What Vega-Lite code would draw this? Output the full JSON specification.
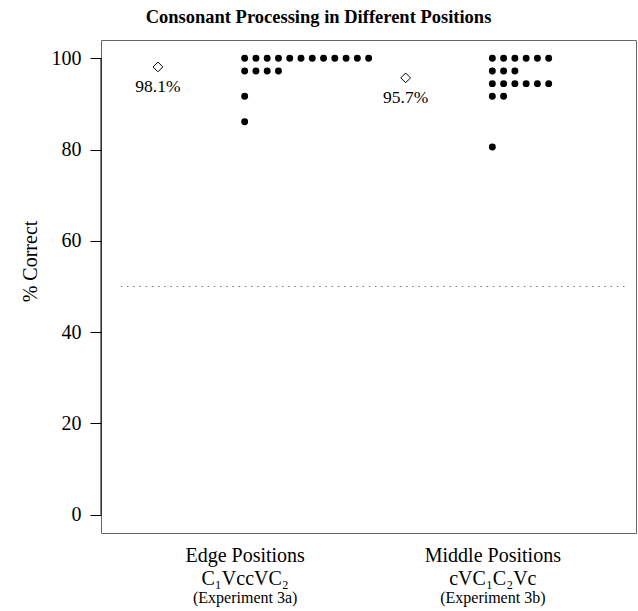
{
  "$schema": "https://vega.github.io/schema/vega-lite/v6.json",
  "width": 535,
  "height": 493,
  "autosize": {"type": "none"},
  "padding": {"left": 101, "top": 40, "right": 2, "bottom": 78},
  "background": "white",
  "config": {
    "view": {"stroke": "#666666", "strokeWidth": 1},
    "font": "Liberation Serif",
    "axisX": {"domain": false, "ticks": false, "tickSize": 0, "grid": false, "labelColor": "black", "labelFont": "Liberation Serif", "labelBaseline": "middle", "labelOverlap": false, "labelFlush": false, "orient": "bottom"},
    "axisY": {"domain": false, "grid": false, "tickColor": "black", "tickSize": 11, "tickWidth": 1, "labelPadding": 9, "labelFont": "Liberation Serif", "labelFontSize": 20, "labelColor": "black", "titleFont": "Liberation Serif", "titleFontSize": 20, "titleFontWeight": "normal", "titleColor": "black", "titlePadding": 11, "titleY": 221}
  },
  "title": {"text": "Consonant Processing in Different Positions", "font": "Liberation Serif", "fontSize": 18.5, "fontWeight": "bold", "color": "black", "anchor": "middle", "frame": "group", "dx": -50, "offset": 14},
  "datasets": {
    "dots": [
      {"cond": "Edge", "x": 1.0, "pct": 100}, {"cond": "Edge", "x": 1.0455, "pct": 100}, {"cond": "Edge", "x": 1.091, "pct": 100}, {"cond": "Edge", "x": 1.1365, "pct": 100},
      {"cond": "Edge", "x": 1.182, "pct": 100}, {"cond": "Edge", "x": 1.2275, "pct": 100}, {"cond": "Edge", "x": 1.273, "pct": 100}, {"cond": "Edge", "x": 1.3185, "pct": 100},
      {"cond": "Edge", "x": 1.364, "pct": 100}, {"cond": "Edge", "x": 1.4095, "pct": 100}, {"cond": "Edge", "x": 1.455, "pct": 100}, {"cond": "Edge", "x": 1.5005, "pct": 100},
      {"cond": "Edge", "x": 1.0, "pct": 97.22}, {"cond": "Edge", "x": 1.0455, "pct": 97.22}, {"cond": "Edge", "x": 1.091, "pct": 97.22}, {"cond": "Edge", "x": 1.1365, "pct": 97.22},
      {"cond": "Edge", "x": 1.0, "pct": 91.67},
      {"cond": "Edge", "x": 1.0, "pct": 86.11},
      {"cond": "Middle", "x": 2.0, "pct": 100}, {"cond": "Middle", "x": 2.0455, "pct": 100}, {"cond": "Middle", "x": 2.091, "pct": 100}, {"cond": "Middle", "x": 2.1365, "pct": 100}, {"cond": "Middle", "x": 2.182, "pct": 100}, {"cond": "Middle", "x": 2.2275, "pct": 100},
      {"cond": "Middle", "x": 2.0, "pct": 97.22}, {"cond": "Middle", "x": 2.0455, "pct": 97.22}, {"cond": "Middle", "x": 2.091, "pct": 97.22},
      {"cond": "Middle", "x": 2.0, "pct": 94.44}, {"cond": "Middle", "x": 2.0455, "pct": 94.44}, {"cond": "Middle", "x": 2.091, "pct": 94.44}, {"cond": "Middle", "x": 2.1365, "pct": 94.44}, {"cond": "Middle", "x": 2.182, "pct": 94.44}, {"cond": "Middle", "x": 2.2275, "pct": 94.44},
      {"cond": "Middle", "x": 2.0, "pct": 91.67}, {"cond": "Middle", "x": 2.0455, "pct": 91.67},
      {"cond": "Middle", "x": 2.0, "pct": 80.56}
    ],
    "means": [
      {"cond": "Edge", "x": 0.65, "pct": 98.1, "label": "98.1%"},
      {"cond": "Middle", "x": 1.65, "pct": 95.7, "label": "95.7%"}
    ]
  },
  "layer": [
    {
      "data": {"values": [{"ref": "chance"}]},
      "mark": {"type": "rule", "color": "#777777", "strokeWidth": 1, "strokeDash": [1.5, 4.7]},
      "encoding": {
        "x": {"datum": 0.5, "type": "quantitative", "scale": {"domain": [0.42, 2.58], "nice": false, "zero": false}, "axis": null},
        "x2": {"datum": 2.54},
        "y": {"datum": 50, "type": "quantitative", "scale": {"domain": [-4, 104], "nice": false, "zero": false}, "title": "% Correct"}
      }
    },
    {
      "data": {"values": [{"ref": "axis"}]},
      "mark": {"type": "rule", "color": "black", "strokeWidth": 1},
      "encoding": {
        "x": {"datum": 0.42, "type": "quantitative", "scale": {"domain": [0.42, 2.58], "nice": false, "zero": false}, "axis": null},
        "y": {"datum": 0, "type": "quantitative", "scale": {"domain": [-4, 104], "nice": false, "zero": false}, "title": "% Correct"},
        "y2": {"datum": 100}
      }
    },
    {
      "data": {"name": "dots"},
      "mark": {"type": "point", "shape": "circle", "filled": true, "color": "black", "opacity": 1, "size": 48},
      "encoding": {
        "x": {"field": "x", "type": "quantitative", "scale": {"domain": [0.42, 2.58], "nice": false, "zero": false},
              "axis": {"orient": "bottom", "values": [1, 2], "labelExpr": "datum.value == 1 ? 'Edge Positions' : 'Middle Positions'", "labelFontSize": 20, "labelPadding": 22, "title": null}},
        "y": {"field": "pct", "type": "quantitative", "scale": {"domain": [-4, 104], "nice": false, "zero": false},
              "axis": {"values": [0, 20, 40, 60, 80, 100]}, "title": "% Correct"}
      }
    },
    {
      "data": {"name": "means"},
      "mark": {"type": "point", "shape": "diamond", "filled": false, "stroke": "black", "strokeWidth": 1, "opacity": 1, "size": 95},
      "encoding": {
        "x": {"field": "x", "type": "quantitative", "scale": {"domain": [0.42, 2.58], "nice": false, "zero": false},
              "axis": {"orient": "bottom", "values": [1, 2], "labelExpr": "datum.value == 1 ? 'C₁VccVC₂' : 'cVC₁C₂Vc'", "labelFontSize": 20, "labelPadding": 45, "title": null}},
        "y": {"field": "pct", "type": "quantitative", "scale": {"domain": [-4, 104], "nice": false, "zero": false}, "title": "% Correct"}
      }
    },
    {
      "data": {"name": "means"},
      "mark": {"type": "text", "font": "Liberation Serif", "fontSize": 17.5, "color": "black", "baseline": "middle", "align": "center", "dy": 20},
      "encoding": {
        "x": {"field": "x", "type": "quantitative", "scale": {"domain": [0.42, 2.58], "nice": false, "zero": false},
              "axis": {"orient": "bottom", "values": [1, 2], "labelExpr": "datum.value == 1 ? '(Experiment 3a)' : '(Experiment 3b)'", "labelFontSize": 16, "labelPadding": 64, "title": null}},
        "y": {"field": "pct", "type": "quantitative", "scale": {"domain": [-4, 104], "nice": false, "zero": false}, "title": "% Correct"},
        "text": {"field": "label"}
      }
    }
  ],
  "resolve": {"axis": {"x": "independent"}}
}
